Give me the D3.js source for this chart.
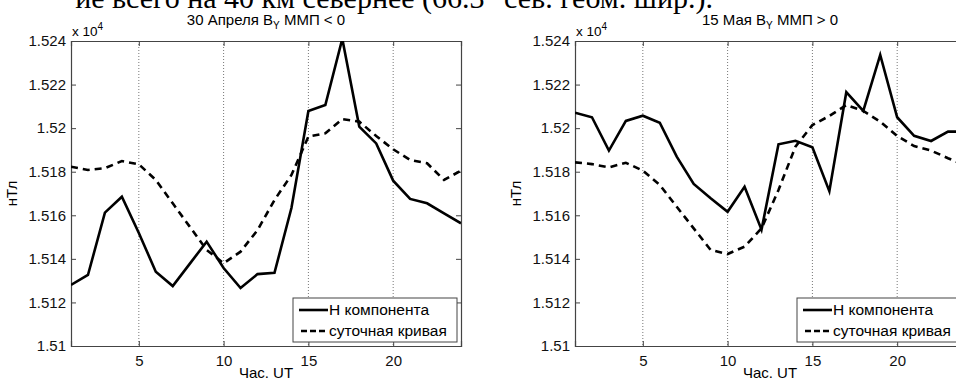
<!DOCTYPE html>
<html>
<head>
<meta charset="utf-8">
<script src="https://cdn.jsdelivr.net/npm/d3@7"></script>
<style>
  body { margin: 0; background: #fff; }
  svg { display: block; font-family: "Liberation Sans", Arial, sans-serif; }
</style>
</head>
<body>
<svg width="956" height="380"></svg>
<script>
let hours = d3.range(1, 25)

let xTicks = [5, 10, 15, 20]
let yTicks = [15100, 15120, 15140, 15160, 15180, 15200, 15220, 15240]
let yTickLabels = ['1.51', '1.512', '1.514', '1.516', '1.518', '1.52', '1.522', '1.524']

// 30 April
let aprilH = [15128, 15132.6, 15161.2, 15168.5, 15151.9, 15134.1, 15127.5, 15137.7, 15147.9, 15135.8, 15126.6,
              15133, 15133.6, 15163.3, 15207.9, 15210.6, 15241, 15200.7, 15193, 15175.9, 15167.5, 15165.5, 15160.9, 15156.3]
let aprilDay = [15182.3, 15180.8, 15181.6, 15184.9, 15183.4, 15176.2, 15165.5, 15154.8, 15144.1, 15138, 15143.3,
                15153.2, 15167, 15178.5, 15196.1, 15197.6, 15204.1, 15203, 15196.4, 15190.3, 15185.4, 15183.9, 15176.2, 15180.5]

// 15 May
let mayH = [15207.1, 15205, 15189.7, 15203.3, 15205.7, 15202.5, 15186.9, 15174.4, 15167.8, 15161.6, 15173.1,
            15153.4, 15192.6, 15194.2, 15191.2, 15171.1, 15216.5, 15207.9, 15233.6, 15205, 15196.5, 15194.1, 15198.4, 15198.4]
let mayDay = [15184.3, 15183.5, 15182, 15184.1, 15180.5, 15173.9, 15163.9, 15154, 15144.1, 15142.2, 15145.6,
              15154, 15171.6, 15191.5, 15201.4, 15205.6, 15210.6, 15207.9, 15203, 15196.4, 15191.8, 15189.7, 15186.2, 15183]

let titles = ['30 Апреля B', '15 Мая B']
let titleTails = [' ММП < 0', ' ММП > 0']
let legendLabels = ['Н компонента', 'суточная кривая']

let svg = d3.select('svg')

let plotTop = 41
let plotBottom = 346
let plotW = 390
let fs = '15px'

// clipped body text of the page above the figure
svg.append('text')
   .attr('x', 713)
   .attr('y', 8)
   .attr('text-anchor', 'end')
   .style('font-family', '"Liberation Serif", "Times New Roman", serif')
   .style('font-size', '30px')
   .text('ие всего на 40 км севернее (66.3° сев. геом. шир.).')

let drawPanel = (left, idx, hSeries, daySeries) => {
    let g = svg.append('g')
    let right = left + plotW

    let x = d3.scaleLinear().domain([1, 24]).range([left, right])
    let y = d3.scaleLinear().domain([15100, 15240]).range([plotBottom, plotTop])

    let clipId = 'clip' + idx
    svg.append('clipPath').attr('id', clipId)
       .append('rect')
       .attr('x', left).attr('y', plotTop)
       .attr('width', plotW).attr('height', plotBottom - plotTop)

    // vertical dotted grid
    g.selectAll('.grid')
     .data(xTicks)
     .enter()
     .append('line')
     .attr('x1', d => x(d)).attr('x2', d => x(d))
     .attr('y1', plotTop).attr('y2', plotBottom)
     .attr('stroke', '#777')
     .attr('stroke-width', 1)
     .attr('stroke-dasharray', '1,2')

    // axes
    let xAxis = d3.axisBottom(x).tickValues(xTicks).tickSize(-5).tickPadding(9)
    g.append('g')
     .attr('transform', 'translate(0,' + plotBottom + ')')
     .call(xAxis)
    let xTop = d3.axisTop(x).tickValues(xTicks).tickSize(-5).tickFormat('')
    g.append('g')
     .attr('transform', 'translate(0,' + plotTop + ')')
     .call(xTop)

    let yAxis = d3.axisLeft(y).tickValues(yTicks).tickSize(-5).tickPadding(5)
                  .tickFormat((d, i) => yTickLabels[i])
    g.append('g')
     .attr('transform', 'translate(' + left + ',0)')
     .call(yAxis)
    let yRight = d3.axisRight(y).tickValues(yTicks).tickSize(-5).tickFormat('')
    g.append('g')
     .attr('transform', 'translate(' + right + ',0)')
     .call(yRight)

    g.selectAll('.domain').attr('stroke', '#444').attr('stroke-width', 1.2)
    g.selectAll('.tick line').attr('stroke', '#444')
    g.selectAll('.tick text').attr('fill', '#111').style('font-size', fs)

    // lines
    let line = d3.line()
                 .x((d, i) => x(hours[i]))
                 .y(d => y(d))

    g.append('path')
     .datum(daySeries)
     .attr('clip-path', 'url(#' + clipId + ')')
     .attr('d', line)
     .attr('fill', 'none')
     .attr('stroke', '#000')
     .attr('stroke-width', 2.6)
     .attr('stroke-dasharray', '7,5')

    g.append('path')
     .datum(hSeries)
     .attr('clip-path', 'url(#' + clipId + ')')
     .attr('d', line)
     .attr('fill', 'none')
     .attr('stroke', '#000')
     .attr('stroke-width', 2.6)
     .attr('stroke-linejoin', 'miter')

    // title
    let t = g.append('text')
             .attr('x', (left + right) / 2)
             .attr('y', 25)
             .attr('text-anchor', 'middle')
             .style('font-size', fs)
    t.append('tspan').text(titles[idx])
    t.append('tspan').attr('dy', 4).style('font-size', '10px').text('Y')
    t.append('tspan').attr('dy', -4).text(titleTails[idx])

    // exponent
    let e = g.append('text')
             .attr('x', left + 1)
             .attr('y', 36)
             .style('font-size', '13.5px')
    e.append('tspan').text('x 10')
    e.append('tspan').attr('dy', -6).style('font-size', '10px').text('4')

    // axis labels
    g.append('text')
     .attr('x', (left + right) / 2)
     .attr('y', 378)
     .attr('text-anchor', 'middle')
     .style('font-size', fs)
     .text('Час. UT')

    g.append('text')
     .attr('transform', 'translate(' + (left - 54) + ',' + ((plotTop + plotBottom) / 2) + ') rotate(-90)')
     .attr('text-anchor', 'middle')
     .style('font-size', fs)
     .text('нТл')

    // legend
    let lx = right - 168
    let ly = 298
    let lg = g.append('g')
    lg.append('rect')
      .attr('x', lx).attr('y', ly)
      .attr('width', 164).attr('height', 44)
      .attr('fill', '#fff')
      .attr('stroke', '#444')
      .attr('stroke-width', 1)
    lg.append('line')
      .attr('x1', lx + 6).attr('x2', lx + 35)
      .attr('y1', ly + 12).attr('y2', ly + 12)
      .attr('stroke', '#000').attr('stroke-width', 2.6)
    lg.append('line')
      .attr('x1', lx + 8).attr('x2', lx + 35)
      .attr('y1', ly + 33).attr('y2', ly + 33)
      .attr('stroke', '#000').attr('stroke-width', 2.6)
      .attr('stroke-dasharray', '6,3')
    lg.selectAll('.lbl')
      .data(legendLabels)
      .enter()
      .append('text')
      .attr('x', lx + 36)
      .attr('y', (d, i) => ly + 17 + i * 21)
      .style('font-size', '15.5px')
      .text(d => d)
}

drawPanel(71, 0, aprilH, aprilDay)
drawPanel(575, 1, mayH, mayDay)
</script>
</body>
</html>
